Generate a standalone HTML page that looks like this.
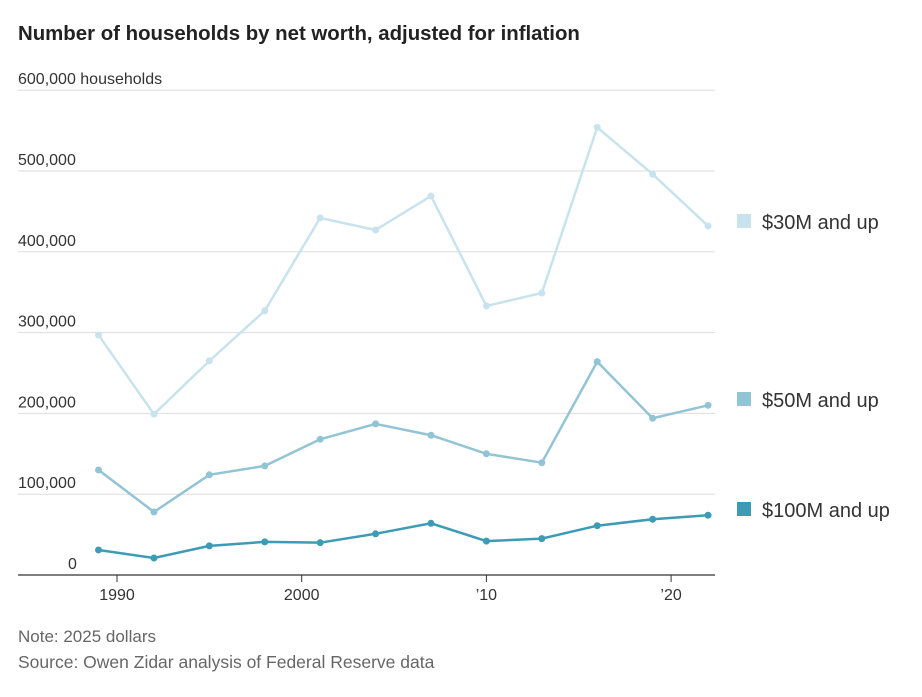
<!DOCTYPE html>
<html><head><meta charset="utf-8"><style>
body{margin:0;background:#fff;font-family:"Liberation Sans",sans-serif;}
</style></head><body>
<svg width="922" height="692" xmlns="http://www.w3.org/2000/svg" id="c" font-family="Liberation Sans, sans-serif">
<text x="18" y="40" font-size="20.4" font-weight="bold" fill="#222">Number of households by net worth, adjusted for inflation</text>
<g id="grid"></g><g id="series"></g><g id="legend"></g>
<text x="18" y="642" font-size="17" fill="#666">Note: 2025 dollars</text>
<text x="18" y="668" font-size="17.5" fill="#666">Source: Owen Zidar analysis of Federal Reserve data</text>
</svg>
<script>
const years=[1989,1992,1995,1998,2001,2004,2007,2010,2013,2016,2019,2022];
const s30=[297000,199000,265000,327000,442000,427000,469000,333000,349000,554000,496000,432000];
const s50=[130000,78000,124000,135000,168000,187000,173000,150000,139000,264000,194000,210000];
const s100=[31000,21000,36000,41000,40000,51000,64000,42000,45000,61000,69000,74000];
const yTicks=[0,100000,200000,300000,400000,500000,600000];
const yLabels=["0","100,000","200,000","300,000","400,000","500,000","600,000 households"];
const xTicks=[1990,2000,2010,2020];
const xLabels=["1990","2000","’10","’20"];
const seriesNames=["$30M and up","$50M and up","$100M and up"];
const NS="http://www.w3.org/2000/svg";
const X=y=>117+(y-1990)*18.47;
const Y=v=>575-v*0.000808;
function mk(t,a,p){const e=document.createElementNS(NS,t);for(const k in a)e.setAttribute(k,a[k]);p.appendChild(e);return e;}
const g=document.getElementById('grid');
yTicks.forEach((v,i)=>{
 if(i>0){const l=mk('line',{x1:18,x2:715,y1:Y(v),y2:Y(v),stroke:'#ddd','stroke-width':1},g);
 
 }
 const t=mk('text',{x:i==0?68:18,y:Y(v)-6,'font-size':16,fill:'#333'},g);t.textContent=yLabels[i];
 
 
});
const ax=mk('line',{x1:18,x2:715,y1:575,y2:575,stroke:'#333','stroke-width':1.2},g);


xTicks.forEach((y,i)=>{
 const tk=mk('line',{x1:X(y),x2:X(y),y1:575,y2:582,stroke:'#333'},g);
 
 
 const t=mk('text',{x:X(y),y:600,'font-size':16,fill:'#333','text-anchor':'middle'},g);t.textContent=xLabels[i];
 
 
});
const sg=document.getElementById('series'),lg=document.getElementById('legend');
const data=[s30,s50,s100],cols=["#c9e3ee","#93c4d5","#3d9bb6"],ly=[222,400,510];
data.forEach((d,k)=>{
 const p=mk('polyline',{points:d.map((v,i)=>X(years[i])+','+Y(v)).join(' '),fill:'none',stroke:cols[k],'stroke-width':2.5},sg);
 
 
 d.forEach((v,i)=>{const c=mk('circle',{cx:X(years[i]),cy:Y(v),r:3.5,fill:cols[k]},sg);
  
  });
 const r=mk('rect',{x:737,y:ly[k]-8,width:14,height:14,fill:cols[k]},lg);
 
 
 const t=mk('text',{x:762,y:ly[k]+7,'font-size':20,fill:'#333'},lg);t.textContent=seriesNames[k];
 
 
});
</script>
</body></html>
